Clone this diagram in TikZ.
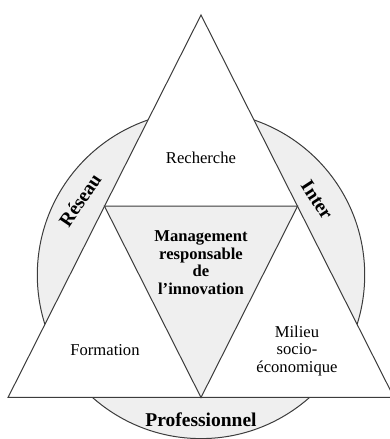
\documentclass[tikz,border=0pt]{standalone}
\usepackage{fontspec}
\setmainfont{Liberation Serif}
\definecolor{linegray}{HTML}{3C3C3C}
\definecolor{fillgray}{HTML}{EFEFEF}
\tikzset{
  shape line/.style={draw=linegray, line width=1pt, line join=miter},
  plain label/.style={font=\fontsize{16.6}{17.5}\selectfont, align=center, inner sep=0pt},
  core label/.style={font=\fontsize{16.6}{17.6}\selectfont\bfseries, align=center, inner sep=0pt},
  ring label/.style={font=\fontsize{19.5}{21}\selectfont\bfseries, inner sep=0pt},
}
\begin{document}
\begin{tikzpicture}[x=1pt,y=1pt]
\useasboundingbox (0,0) rectangle (390,439);
% key points
\coordinate (apex) at (201,424);
\coordinate (bl) at (8,41.5);
\coordinate (br) at (394,41.5);
\coordinate (ml) at (104.5,232.75);
\coordinate (mr) at (297.5,232.75);
\coordinate (mb) at (201,41.5);
\coordinate (cc) at (201,164.1);
% ring
\draw[shape line, fill=fillgray] (cc) circle[radius=163.7];
% big triangle
\draw[shape line, fill=white] (apex) -- (bl) -- (br) -- cycle;
% inner inverted triangle
\draw[shape line, fill=fillgray] (ml) -- (mr) -- (mb) -- cycle;
% labels
\node[plain label] (recherche) at (201,281) {Recherche};
\node[core label] (core) at (201,176.5) {Management\\responsable\\de\\l’innovation};
\node[plain label] (formation) at (105,89) {Formation};
\node[plain label] (milieu) at (297,88) {Milieu\\socio-\\économique};
\node[ring label, rotate=56] (reseau) at (80,239) {Réseau};
\node[ring label, rotate=-57] (inter) at (317,239) {Inter};
\node[ring label] (pro) at (201,19) {Professionnel};
\end{tikzpicture}
\end{document}
